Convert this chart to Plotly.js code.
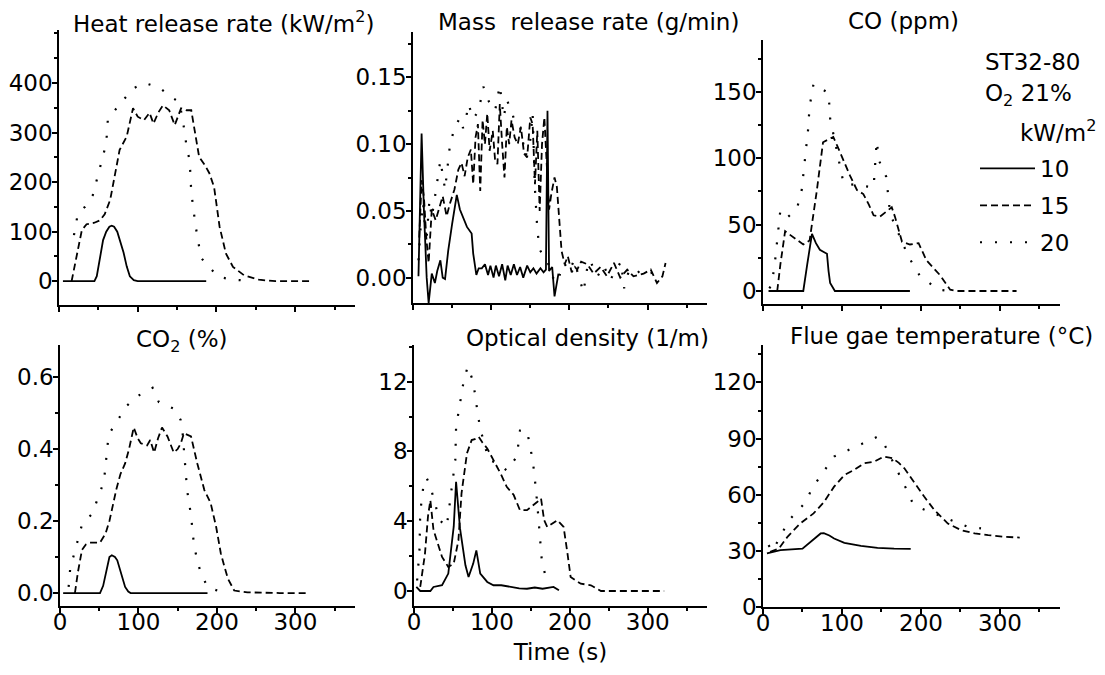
<!DOCTYPE html>
<html><head><meta charset="utf-8">
<script src="https://cdn.plot.ly/plotly-3.0.1.min.js"></script>
<style>html,body{margin:0;padding:0;background:#fff}#chart{width:1105px;height:675px}</style>
</head><body><div id="chart"></div>
<script>
// ---------- series labels (incident heat flux, kW/m2) ----------
const seriesLabels = ['10', '15', '20'];

// ---------- Heat release rate (kW/m2) ----------
const hrr_t10 = [5, 45, 48, 52, 56, 60, 64, 67, 70, 74, 78, 82, 86, 90, 95, 100, 187];
const hrr_v10 = [0, 0, 10, 45, 83, 100, 110, 112, 110, 100, 80, 58, 30, 10, 2, 0, 0];
const hrr_t15 = [16, 22, 29, 35, 45, 52, 58, 65, 71, 77, 86, 94, 100, 108, 115, 120, 126, 132, 140, 147, 155, 162, 168, 173, 178, 185, 191, 197, 204, 212, 221, 235, 254, 275, 300, 322];
const hrr_v15 = [0, 50, 103, 115, 118, 123, 135, 164, 214, 265, 292, 349, 332, 325, 340, 318, 340, 355, 345, 315, 349, 345, 345, 300, 251, 235, 218, 190, 110, 56, 29, 12, 3, 0, 0, 0];
const hrr_t20 = [19, 24, 33, 43, 60, 62, 71, 94, 109, 127, 145, 153, 160, 162, 166, 168, 172, 176, 181, 202, 221, 233];
const hrr_v20 = [93, 137, 150, 174, 278, 325, 345, 389, 400, 391, 369, 362, 298, 271, 244, 180, 130, 86, 46, 9, 3, 2];

// ---------- Mass release rate (g/min) ----------
const mrr_t10 = [7, 11, 14, 17.5, 20, 24, 28, 31, 35, 38, 41, 45, 50, 56, 60, 65, 69, 75, 77, 81, 84, 88, 92, 96, 99, 103, 106, 110, 114, 118, 121, 125, 129, 133, 137, 141, 146, 150, 154, 158, 163, 167, 170, 172, 174, 178, 181, 186];
const mrr_v10 = [0.001, 0.108, 0.05, 0.0, -0.019, 0.003, -0.004, 0.005, 0.013, 0.0, -0.001, 0.02, 0.04, 0.062, 0.051, 0.044, 0.038, 0.033, 0.018, 0.002, 0.007, 0.007, 0.01, 0.002, 0.009, 0.0, 0.009, 0.001, 0.01, -0.002, 0.009, 0.002, 0.01, 0.002, 0.008, 0.0, 0.009, 0.004, 0.007, 0.003, 0.007, 0.004, 0.006, 0.125, 0.005, 0.008, -0.014, 0.003];
const mrr_t15 = [8, 11, 14, 17, 20, 24, 29, 34, 38, 43, 47, 53, 58, 62, 66, 70, 74, 77, 80, 83, 86, 89, 92, 95, 98, 102, 105, 108, 111, 114, 117, 120, 123, 126, 130, 134, 138, 142, 146, 150, 153, 156, 159, 162, 165, 168, 171, 174, 177, 181, 184, 187, 190, 194, 198, 203, 207, 210, 215, 223, 231, 240, 248, 257, 265, 274, 282, 295, 304, 312, 319, 323];
const mrr_v15 = [0.03, 0.073, 0.06, 0.03, 0.011, 0.051, 0.043, 0.053, 0.061, 0.046, 0.055, 0.066, 0.081, 0.086, 0.076, 0.09, 0.096, 0.07, 0.105, 0.115, 0.065, 0.118, 0.1, 0.123, 0.095, 0.11, 0.088, 0.085, 0.13, 0.1, 0.075, 0.113, 0.1, 0.118, 0.105, 0.1, 0.113, 0.093, 0.09, 0.12, 0.115, 0.07, 0.11, 0.05, 0.1, 0.12, 0.08, 0.051, 0.063, 0.075, 0.068, 0.043, 0.02, 0.01, 0.016, 0.004, 0.008, 0.006, 0.012, 0.01, 0.003, 0.008, 0.001, 0.011, 0, 0.006, 0.001, 0.003, 0.006, -0.004, 0.001, 0.011];
const mrr_t20 = [7, 10, 13, 17, 21, 24, 29, 35, 41, 47, 52, 56, 60, 64, 68, 71, 77, 84, 90, 97, 105, 111, 116, 120, 126, 131, 137, 144, 150, 153, 156, 159, 162, 167, 172, 176, 184, 193, 200, 206, 212, 218, 223, 227, 232, 236, 244, 252, 260, 266, 270, 276, 284, 292, 300, 310];
const mrr_v20 = [0.013, 0.04, 0.056, 0.026, 0.058, 0.045, 0.064, 0.088, 0.066, 0.098, 0.11, 0.115, 0.12, 0.112, 0.12, 0.13, 0.119, 0.125, 0.143, 0.132, 0.125, 0.144, 0.12, 0.133, 0.125, 0.115, 0.113, 0.091, 0.103, 0.123, 0.066, 0.036, 0.021, 0.016, 0.013, 0.0025, -0.004, 0.011, 0.005, 0.013, 0.0, -0.011, 0.008, 0.013, 0.004, 0.001, 0.009, -0.002, 0.006, 0.012, -0.008, 0.005, 0.002, 0.006, 0.003, 0.004];

// ---------- CO (ppm) ----------
const co_t10 = [7, 51, 56, 62, 67, 72, 78, 81, 83, 85, 91, 186];
const co_v10 = [0, 0, 20, 43, 36, 31, 29, 28, 15, 6, 0, 0];
const co_t15 = [18, 22, 28, 40, 51, 59, 68, 76, 82, 89, 95, 102, 110, 119, 127, 134, 140, 148, 156, 163, 167, 176, 186, 197, 207, 215, 224, 237, 245, 280, 321];
const co_v15 = [0, 20, 45, 40, 35, 38, 75, 112, 114, 116, 108, 98, 87, 76, 73, 65, 57, 56, 60, 63, 56, 37, 35, 36, 23, 18, 12, 1, 0, 0, 0];
const co_t20 = [8, 11, 15, 18, 22, 32, 43, 49, 52, 57, 59, 64, 83, 85, 102, 140, 144, 147, 156, 159, 161, 184, 199, 222, 237];
const co_v20 = [2, 4.5, 21, 40, 61, 56, 62, 76, 93, 121, 139, 156, 149, 130, 81, 78, 113, 98, 86, 68, 58, 26, 11, 1, 0];

// ---------- CO2 (%) ----------
const co2_t10 = [4, 51, 55, 60, 63, 66, 70, 73, 78, 83, 87, 90, 188];
const co2_v10 = [0, 0, 0.02, 0.07, 0.1, 0.105, 0.1, 0.091, 0.055, 0.017, 0.004, 0, 0];
const co2_t15 = [19, 23, 28, 33, 38, 51, 58, 63, 68, 72, 77, 83, 88, 94, 99, 103, 111, 115, 120, 125, 130, 137, 145, 150, 154, 158, 167, 175, 184, 192, 199, 205, 210, 214, 222, 239, 280, 316];
const co2_v15 = [0, 0.06, 0.12, 0.135, 0.14, 0.14, 0.165, 0.2, 0.25, 0.29, 0.33, 0.36, 0.4, 0.46, 0.43, 0.416, 0.41, 0.425, 0.39, 0.43, 0.46, 0.435, 0.39, 0.4, 0.416, 0.444, 0.435, 0.36, 0.286, 0.25, 0.184, 0.11, 0.07, 0.04, 0.007, 0.002, 0, 0];
const co2_t20 = [11, 13, 28, 41, 56, 58, 60, 62, 85, 98, 118, 126, 147, 154, 156, 162, 167, 171, 179, 188, 205, 214];
const co2_v20 = [0.017, 0.068, 0.19, 0.22, 0.31, 0.35, 0.39, 0.44, 0.52, 0.546, 0.57, 0.53, 0.51, 0.48, 0.453, 0.286, 0.216, 0.128, 0.058, 0.017, 0.003, 0];

// ---------- Optical density (1/m) ----------
const od_t10 = [3, 8, 21, 25, 36, 44, 51, 54, 59, 66, 70, 76, 80, 85, 94, 102, 112, 124, 135, 145, 155, 165, 172, 179, 186];
const od_v10 = [0.23, 0, 0, 0.23, 0.33, 1.0, 3.7, 6.26, 3.6, 1.47, 0.8, 1.57, 2.33, 1.0, 0.52, 0.33, 0.33, 0.23, 0.15, 0.13, 0.2, 0.13, 0.2, 0.23, 0.04];
const od_t15 = [8, 14, 18, 21, 25, 29, 36, 44, 51, 57, 61, 68, 74, 78, 83, 88, 94, 102, 111, 119, 128, 136, 145, 158, 163, 167, 171, 184, 192, 197, 201, 214, 227, 240, 280, 321];
const od_v15 = [0.23, 2.1, 4.3, 5.2, 3.5, 2.9, 1.95, 1.38, 1.57, 2.9, 5.6, 7.9, 8.65, 8.7, 8.84, 8.5, 8.17, 7.5, 6.74, 5.97, 5.5, 4.63, 4.63, 5.1, 5.3, 4.06, 3.67, 4.06, 3.67, 2.14, 0.8, 0.42, 0.33, 0, 0, 0];
const od_t20 = [4, 7, 8, 12, 16, 21, 27, 33, 42, 53, 54, 61, 64, 69, 76, 82, 85, 96, 109, 119, 132, 136, 145, 151, 154, 158, 162, 164, 169];
const od_v20 = [0.6, 2.3, 4.5, 6.0, 6.5, 6.0, 5.0, 4.06, 3.67, 7.5, 9.4, 11.3, 12.1, 12.86, 12.0, 10.1, 9.3, 7.5, 7.3, 6.9, 7.7, 9.2, 9.2, 7.8, 6.9, 5.1, 2.7, 1.76, 0.8];

// ---------- Flue gas temperature (°C) ----------
const ft_t10 = [5, 22, 50, 60, 67, 73, 77, 84, 90, 103, 124, 145, 166, 187];
const ft_v10 = [28.6, 30.4, 31.2, 34.8, 37.5, 39.3, 39.5, 38.2, 36.6, 34.3, 32.7, 31.6, 31.2, 31.1];
const ft_t15 = [9, 20, 31, 47, 64, 77, 90, 103, 115, 128, 141, 153, 164, 172, 179, 192, 204, 217, 234, 251, 268, 285, 306, 325];
const ft_v15 = [29.5, 31.2, 37.5, 44.6, 50, 56, 64.3, 70.5, 73.2, 76.8, 77.7, 80.4, 79.5, 77, 74.1, 66, 59, 51.8, 44.6, 41, 39.3, 38.4, 37.5, 37.1];
const ft_t20 = [7, 12, 33, 47, 54, 62, 90, 145, 153, 181, 189, 200, 259, 276];
const ft_v20 = [33, 30, 46.4, 52.7, 56, 63.4, 80.4, 91, 87.5, 63.4, 56, 52.7, 42.9, 42];

// ---------- panel titles & axis ticks ----------
const panelTitles = ['Heat release rate (kW/m<sup>2</sup>)', 'Mass\u00a0 release rate (g/min)', 'CO (ppm)',
                     'CO<sub>2</sub> (%)', 'Optical density (1/m)', 'Flue gae temperature (°C)'];
const yTickVals = [[0, 100, 200, 300, 400], [0, 0.05, 0.10, 0.15], [0, 50, 100, 150],
                   [0, 0.2, 0.4, 0.6], [0, 4, 8, 12], [0, 30, 60, 90, 120]];
const yTickText = [['0', '100', '200', '300', '400'], ['0.00', '0.05', '0.10', '0.15'], ['0', '50', '100', '150'],
                   ['0.0', '0.2', '0.4', '0.6'], ['0', '4', '8', '12'], ['0', '30', '60', '90', '120']];
const xTickVals = [0, 100, 200, 300];
const xTitle = 'Time (s)';
const headerLines = ['ST32-80', 'O<sub>2</sub> 21%', 'kW/m<sup>2</sup>'];

const panelData = [
  [[hrr_t10, hrr_v10], [hrr_t15, hrr_v15], [hrr_t20, hrr_v20]],
  [[mrr_t10, mrr_v10], [mrr_t15, mrr_v15], [mrr_t20, mrr_v20]],
  [[co_t10, co_v10], [co_t15, co_v15], [co_t20, co_v20]],
  [[co2_t10, co2_v10], [co2_t15, co2_v15], [co2_t20, co2_v20]],
  [[od_t10, od_v10], [od_t15, od_v15], [od_t20, od_v20]],
  [[ft_t10, ft_v10], [ft_t15, ft_v15], [ft_t20, ft_v20]]
];

// ---------- layout geometry (pixels) ----------
const W = 1105, H = 675;
const boxes = [ // [left, right, top, bottom] px of plot areas
  [59, 355, 30, 305], [413, 707, 32, 303], [763, 1060, 40, 304],
  [60, 355, 345, 606], [414, 707, 345, 606], [763, 1060, 345, 607]
];
const yRanges = [[-48, 507], [-0.019, 0.184], [-9.8, 189], [-0.036, 0.689], [-0.86, 14.1], [0, 140]];
const yMinor = [50, 0.025, 25, 0.1, 2, 15];
const xRange = [0, 376];
const titlePos = [[224, 22], [588, 22], [903, 21], [182, 341], [587, 338], [941, 336]];
const dashes = ['solid', '7px,4px', '2px,13px'];
const FONT = 'DejaVu Sans, sans-serif';
const FS = 23;

const traces = [];
panelData.forEach((series, p) => {
  series.forEach((s, k) => {
    traces.push({
      type: 'scatter', mode: 'lines', x: s[0], y: s[1],
      xaxis: 'x' + (p ? p + 1 : ''), yaxis: 'y' + (p ? p + 1 : ''),
      name: seriesLabels[k], legendgroup: 'g' + k, showlegend: p === 0,
      line: {color: '#000', width: k === 2 ? 2.2 : 1.8, dash: dashes[k]},
      hoverinfo: 'x+y'
    });
  });
});

const layout = {
  width: W, height: H,
  margin: {l: 0, r: 0, t: 0, b: 0},
  paper_bgcolor: '#fff', plot_bgcolor: '#fff',
  font: {family: FONT, size: FS, color: '#000'},
  showlegend: true,
  legend: {x: 970 / W, y: 1 - 147 / H, xanchor: 'left', yanchor: 'top',
           bgcolor: 'rgba(0,0,0,0)', font: {size: FS}, tracegroupgap: 4, itemwidth: 60},
  annotations: [],
  hovermode: 'closest'
};

boxes.forEach((b, p) => {
  const xa = 'xaxis' + (p ? p + 1 : ''), ya = 'yaxis' + (p ? p + 1 : '');
  const xid = 'x' + (p ? p + 1 : ''), yid = 'y' + (p ? p + 1 : '');
  layout[xa] = {
    domain: [b[0] / W, b[1] / W], anchor: yid, range: xRange,
    showgrid: false, zeroline: false, showline: true, linecolor: '#000', linewidth: 1.5,
    ticks: 'outside', ticklen: 5, tickwidth: 1.5, tickcolor: '#000',
    tickmode: 'array', tickvals: xTickVals, showticklabels: p >= 3,
    tickfont: {size: FS}, ticklabelstandoff: -10,
    minor: {tickmode: 'linear', tick0: 0, dtick: 50, ticks: 'outside', ticklen: 3, tickcolor: '#000'},
    fixedrange: true
  };
  layout[ya] = {
    domain: [1 - b[3] / H, 1 - b[2] / H], anchor: xid, range: yRanges[p],
    showgrid: false, zeroline: false, showline: true, linecolor: '#000', linewidth: 1.5,
    ticks: 'outside', ticklen: 5, tickwidth: 1.5, tickcolor: '#000',
    tickmode: 'array', tickvals: yTickVals[p], ticktext: yTickText[p],
    tickfont: {size: FS}, ticklabelstandoff: -5,
    minor: {tickmode: 'linear', tick0: 0, dtick: yMinor[p], ticks: 'outside', ticklen: 3, tickcolor: '#000'},
    fixedrange: true
  };
  layout.annotations.push({
    text: panelTitles[p], xref: 'paper', yref: 'paper',
    x: titlePos[p][0] / W, y: 1 - titlePos[p][1] / H, xanchor: 'center', yanchor: 'middle',
    showarrow: false, font: {size: FS}
  });
});
layout.xaxis5.title = {text: xTitle, font: {size: FS}, standoff: 10};

// header text of the legend block
const headerPos = [[983, 62, 'left'], [983, 95, 'left'], [1098, 131, 'right']];
headerLines.forEach((t, i) => {
  layout.annotations.push({
    text: t, xref: 'paper', yref: 'paper',
    x: headerPos[i][0] / W, y: 1 - headerPos[i][1] / H, xanchor: headerPos[i][2], yanchor: 'middle',
    showarrow: false, font: {size: FS}
  });
});

const gd = document.getElementById('chart');
// lengthen the legend sample lines to match the reference key
function stretchLegendLines() {
  gd.querySelectorAll('g.legend path.js-line, g.legend .legendlines path').forEach(p => {
    p.setAttribute('d', 'M10,0h55');
  });
}
Plotly.newPlot(gd, traces, layout, {displayModeBar: false}).then(() => {
  stretchLegendLines();
  setTimeout(stretchLegendLines, 50);
  setTimeout(stretchLegendLines, 300);
  gd.on('plotly_afterplot', stretchLegendLines);
});
</script></body></html>
